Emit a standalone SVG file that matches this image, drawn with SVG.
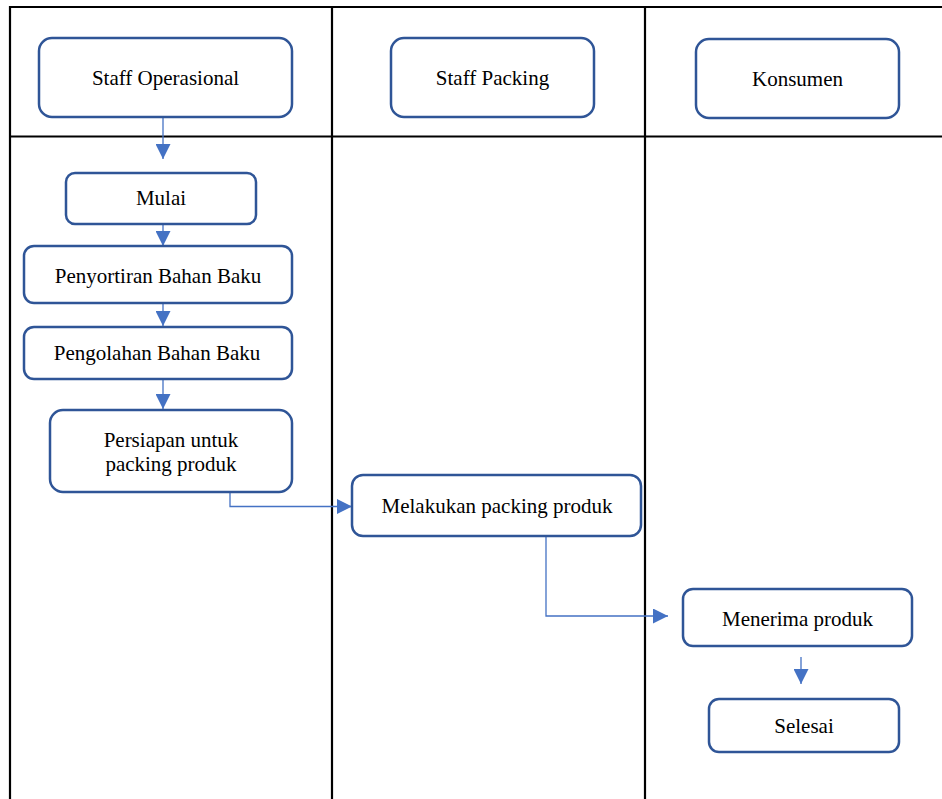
<svg xmlns="http://www.w3.org/2000/svg" width="942" height="799" viewBox="0 0 942 799">
<style>
.grid{stroke:#000;stroke-width:2.2;fill:none}
.box{fill:#fff;stroke:#2F5597;stroke-width:2.5}
.lbl{font-family:"Liberation Serif","Times New Roman",serif;font-size:21px;fill:#000;text-anchor:middle}
.con{fill:none;stroke:#4472C4;stroke-width:1.3}
</style>
<defs>
<marker id="ah" viewBox="0 0 15 15" refX="15" refY="7.5" markerWidth="15" markerHeight="15" markerUnits="userSpaceOnUse" orient="auto">
<path d="M0,0 L15,7.5 L0,15 Z" fill="#4472C4"/>
</marker>
</defs>
<rect width="942" height="799" fill="#fff"/>
<g id="table">
<line class="grid" x1="10" y1="7" x2="942" y2="7"/>
<line class="grid" x1="10" y1="136.5" x2="942" y2="136.5"/>
<line class="grid" x1="10" y1="6" x2="10" y2="799"/>
<line class="grid" x1="332" y1="6" x2="332" y2="799"/>
<line class="grid" x1="645" y1="6" x2="645" y2="799"/>
</g>
<g id="connectors">
<path class="con" d="M163,117 V159" marker-end="url(#ah)"/>
<path class="con" d="M163,224 V246" marker-end="url(#ah)"/>
<path class="con" d="M163,303 V326" marker-end="url(#ah)"/>
<path class="con" d="M163,379 V409" marker-end="url(#ah)"/>
<path class="con" d="M230,492 V506.5 H352" marker-end="url(#ah)"/>
<path class="con" d="M546,536 V616 H668" marker-end="url(#ah)"/>
<path class="con" d="M801,657 V684" marker-end="url(#ah)"/>
</g>
<g id="staff-operasional">
<rect class="box" x="39" y="38" width="253" height="79" rx="13"/>
<text class="lbl" x="165.5" y="85">Staff Operasional</text>
</g>
<g id="staff-packing">
<rect class="box" x="391" y="38" width="203" height="79" rx="13"/>
<text class="lbl" x="492.5" y="85">Staff Packing</text>
</g>
<g id="konsumen">
<rect class="box" x="696" y="39" width="203" height="79" rx="13"/>
<text class="lbl" x="797.5" y="86">Konsumen</text>
</g>
<g id="mulai">
<rect class="box" x="66" y="173" width="190" height="51" rx="9"/>
<text class="lbl" x="161" y="205">Mulai</text>
</g>
<g id="penyortiran">
<rect class="box" x="24" y="246" width="268" height="57" rx="10"/>
<text class="lbl" x="158" y="283">Penyortiran Bahan Baku</text>
</g>
<g id="pengolahan">
<rect class="box" x="24" y="327" width="268" height="52" rx="10"/>
<text class="lbl" x="157" y="360">Pengolahan Bahan Baku</text>
</g>
<g id="persiapan">
<rect class="box" x="50" y="410" width="242" height="82" rx="13"/>
<text class="lbl" x="171" y="447">Persiapan untuk</text>
<text class="lbl" x="171" y="471">packing produk</text>
</g>
<g id="melakukan">
<rect class="box" x="352" y="475" width="289" height="61" rx="11"/>
<text class="lbl" x="497" y="513">Melakukan packing produk</text>
</g>
<g id="menerima">
<rect class="box" x="683" y="589" width="229" height="57" rx="10"/>
<text class="lbl" x="797.5" y="626">Menerima produk</text>
</g>
<g id="selesai">
<rect class="box" x="709" y="699" width="190" height="53" rx="10"/>
<text class="lbl" x="804" y="733">Selesai</text>
</g>
</svg>
